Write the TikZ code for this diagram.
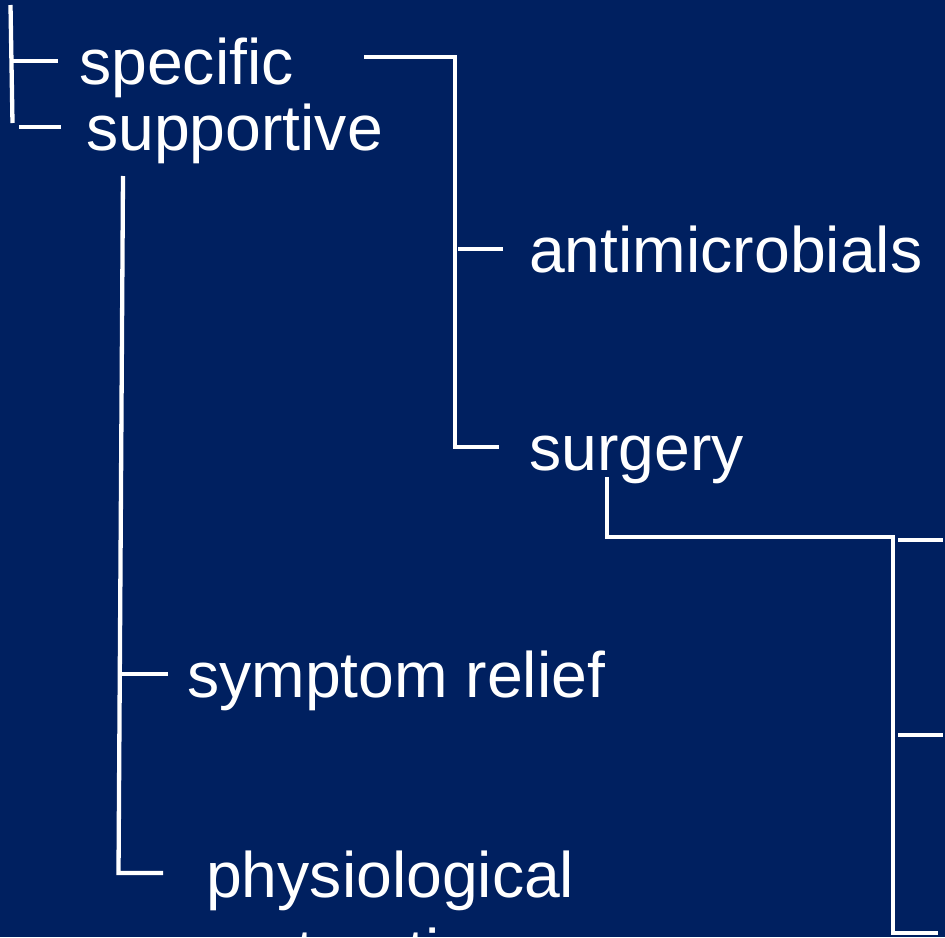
\documentclass[tikz,border=0pt]{standalone}
\usepackage{fontspec}
\setmainfont{Liberation Sans}
\definecolor{navybg}{RGB}{0,32,96}
\begin{document}
\begin{tikzpicture}[x=1pt,y=-1pt,
  lbl/.style={anchor=base west, inner sep=0pt, text=white, font=\fontsize{64.3}{77}\selectfont},
  link/.style={draw=white, line width=4.3pt}]
\fill[navybg] (0,0) rectangle (945,937);
\useasboundingbox (0,0) rectangle (945,937);
% labels
\node[lbl] (spec) at (79,84) {specific};
\node[lbl] (supp) at (86,150) {supportive};
\node[lbl] (anti) at (529,272) {antimicrobials};
\node[lbl] (surg) at (529,470) {surgery};
\node[lbl] (symp) at (187,697) {symptom relief};
\node[lbl] (phys) at (206,897) {physiological};
\node[lbl] (rest) at (207,974) {restoration};
% junction points
\coordinate (L0) at (10.5,5);
\coordinate (L1) at (12.5,123);
\coordinate (La) at (12,61);
\coordinate (Lb) at (58,61);
\coordinate (Lc) at (19,127);
\coordinate (Ld) at (61,127);
\coordinate (S0) at (364,57);
\coordinate (S1) at (455,57);
\coordinate (S2) at (455,447);
\coordinate (S3) at (499,447);
\coordinate (Sa) at (458,249);
\coordinate (Sb) at (503,249);
\coordinate (P0) at (123,176);
\coordinate (P1) at (118.5,873);
\coordinate (P2) at (163,873);
\coordinate (Pa) at (122,674);
\coordinate (Pb) at (168,674);
\coordinate (G0) at (607,477);
\coordinate (G1) at (607,537);
\coordinate (G2) at (893,537);
\coordinate (G3) at (893,933);
\coordinate (G4) at (938,933);
\coordinate (Ga) at (898,540);
\coordinate (Gb) at (943,540);
\coordinate (Gc) at (898,735);
\coordinate (Gd) at (943,735);
% connectors
\draw[link] (L0) -- (L1);
\draw[link] (La) -- (Lb);
\draw[link] (Lc) -- (Ld);
\draw[link] (S0) -- (S1) -- (S2) -- (S3);
\draw[link] (Sa) -- (Sb);
\draw[link] (P0) -- (P1) -- (P2);
\draw[link] (Pa) -- (Pb);
\draw[link] (G0) -- (G1) -- (G2) -- (G3) -- (G4);
\draw[link] (Ga) -- (Gb);
\draw[link] (Gc) -- (Gd);
\end{tikzpicture}
\end{document}
